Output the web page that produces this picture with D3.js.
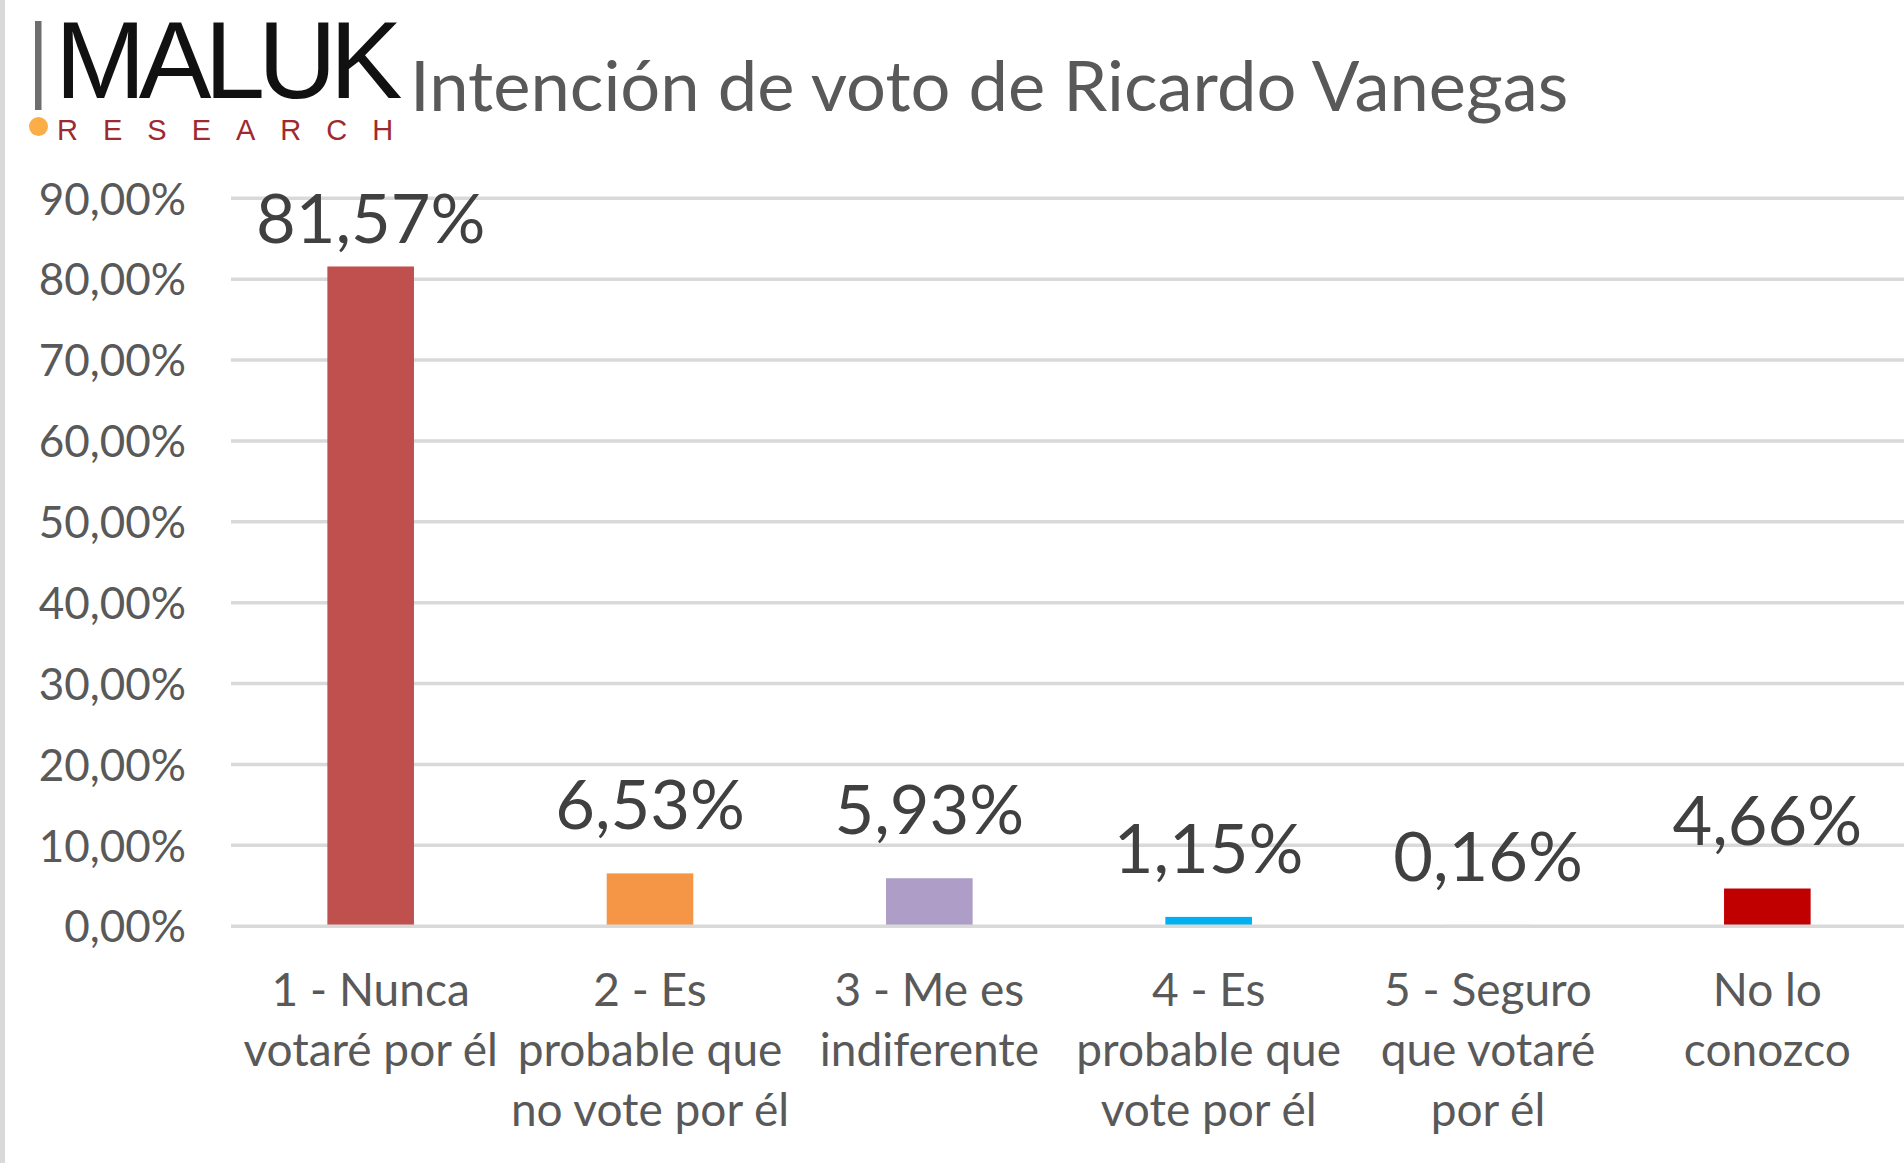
<!DOCTYPE html>
<html lang="es">
<head>
<meta charset="utf-8">
<title>Intención de voto de Ricardo Vanegas</title>
<script src="https://cdn.jsdelivr.net/npm/d3@7"></script>
<style>
  html, body { margin: 0; padding: 0; background: #ffffff; }
  svg { display: block; }
</style>
</head>
<body>
<svg id="chart" width="1904" height="1163"></svg>
<script>
// Survey answers (each wrapped the way the axis shows them)
const categories = [
  ["1 - Nunca", "votaré por él"],
  ["2 - Es", "probable que", "no vote por él"],
  ["3 - Me es", "indiferente"],
  ["4 - Es", "probable que", "vote por él"],
  ["5 - Seguro", "que votaré", "por él"],
  ["No lo", "conozco"]
];
const values = [0.8157, 0.0653, 0.0593, 0.0115, 0.0016, 0.0466];
const barColors = ["#c0504d", "#f49645", "#ad9dc7", "#00b0f0", "#92d050", "#c00000"];
const yTicks = [0, 0.1, 0.2, 0.3, 0.4, 0.5, 0.6, 0.7, 0.8, 0.9];
const title = "Intención de voto de Ricardo Vanegas";

const esLocale = d3.formatLocale({ decimal: ",", thousands: ".", grouping: [3], currency: ["", " €"] });
const pct = esLocale.format(".2%");

const svg = d3.select("#chart");
const FONT = "Lato, 'Open Sans', sans-serif";

// Plot frame
const plot = { left: 231, right: 1907, top: 198.3, bottom: 926.2 };

const x = d3.scaleBand()
  .domain(d3.range(categories.length))
  .range([plot.left, plot.right])
  .paddingInner(0.69)
  .paddingOuter(0.345);

const y = d3.scaleLinear()
  .domain([0, d3.max(yTicks)])
  .range([plot.bottom, plot.top]);

// Thin grey frame on the left edge
svg.append("rect")
  .attr("x", 0).attr("y", 0)
  .attr("width", 5).attr("height", 1163)
  .attr("fill", "#d9d9d9");

// Logo
const logo = svg.append("g").attr("class", "logo");
logo.append("rect")
  .attr("x", 35).attr("y", 21)
  .attr("width", 6.5).attr("height", 89)
  .attr("fill", "#6e6e6e");
logo.append("text")
  .attr("x", 55).attr("y", 98)
  .attr("font-family", "'Liberation Sans', Arial, sans-serif")
  .attr("font-size", 109)
  .attr("letter-spacing", -7)
  .attr("fill", "#111111")
  .text("MALUK");
logo.append("circle")
  .attr("cx", 38.5).attr("cy", 126.5).attr("r", 9.5)
  .attr("fill", "#fbad48");
logo.append("text")
  .attr("x", 57).attr("y", 140)
  .attr("font-family", "'Liberation Sans', Arial, sans-serif")
  .attr("font-size", 29)
  .attr("letter-spacing", 25)
  .attr("fill", "#9e2a2f")
  .text("RESEARCH");

// Title
svg.append("text")
  .attr("x", 410)
  .attr("y", 110.5)
  .attr("font-family", FONT)
  .attr("font-size", 70.5)
  .attr("fill", "#595959")
  .text(title);

// Horizontal gridlines (behind the bars)
svg.append("g")
  .selectAll("line")
  .data(yTicks.filter(t => t > 0))
  .join("line")
  .attr("x1", plot.left).attr("x2", 1904)
  .attr("y1", d => y(d)).attr("y2", d => y(d))
  .attr("stroke", "#d9d9d9")
  .attr("stroke-width", 3.5);

// Y axis labels
const yAxis = d3.axisLeft(y)
  .tickValues(yTicks)
  .tickFormat(pct)
  .tickSize(0)
  .tickPadding(0);

const yAxisG = svg.append("g")
  .attr("transform", `translate(186,0)`)
  .call(yAxis);
yAxisG.select(".domain").remove();
yAxisG.selectAll("text")
  .attr("font-family", FONT)
  .attr("font-size", 44)
  .attr("fill", "#595959")
  .attr("x", 0)
  .attr("dy", "0.358em");

// Bars
svg.append("g")
  .selectAll("rect")
  .data(values)
  .join("rect")
  .attr("x", (d, i) => x(i))
  .attr("y", d => y(d))
  .attr("width", x.bandwidth())
  .attr("height", d => y(0) - y(d))
  .attr("fill", (d, i) => barColors[i]);

// Category axis line (drawn over the bar bases)
svg.append("line")
  .attr("x1", plot.left).attr("x2", 1904)
  .attr("y1", y(0)).attr("y2", y(0))
  .attr("stroke", "#d9d9d9")
  .attr("stroke-width", 3.5);

// Value labels above each bar, kept inside the plot area
const labelGap = 44;
const labelMinBaseline = y(d3.max(yTicks)) + 45;
svg.append("g")
  .selectAll("text")
  .data(values)
  .join("text")
  .attr("x", (d, i) => x(i) + x.bandwidth() / 2)
  .attr("y", d => Math.max(y(d) - labelGap, labelMinBaseline))
  .attr("text-anchor", "middle")
  .attr("font-family", FONT)
  .attr("font-size", 68.5)
  .attr("fill", "#404040")
  .text(d => pct(d));

// Category labels (multi-line)
const catG = svg.append("g")
  .selectAll("text")
  .data(categories)
  .join("text")
  .attr("x", (d, i) => x(i) + x.bandwidth() / 2)
  .attr("y", y(0) + 80)
  .attr("text-anchor", "middle")
  .attr("font-family", FONT)
  .attr("font-size", 46)
  .attr("fill", "#595959");

catG.selectAll("tspan")
  .data((d, i) => d.map(line => ({ line, i })))
  .join("tspan")
  .attr("x", d => x(d.i) + x.bandwidth() / 2)
  .attr("dy", (d, j) => j === 0 ? 0 : 59.7)
  .text(d => d.line);
</script>
</body>
</html>
